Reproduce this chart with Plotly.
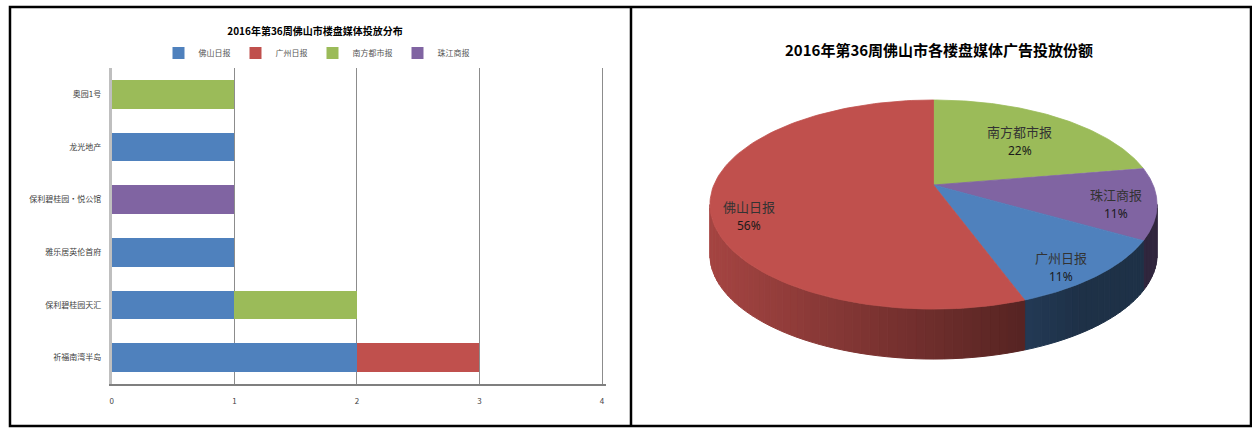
import numpy as np
import plotly.graph_objects as go

W, H = 1252, 428

# ---------------- data ----------------
bar_title = "2016年第36周佛山市楼盘媒体投放分布"
pie_title = "2016年第36周佛山市各楼盘媒体广告投放份额"

categories = ["祈福南湾半岛", "保利碧桂园天汇", "雅乐居英伦首府", "保利碧桂园・悦公馆", "龙光地产", "奥园1号"]
series_names = ["佛山日报", "广州日报", "南方都市报", "珠江商报"]
foshan_ribao = [2, 1, 1, 0, 1, 0]
guangzhou_ribao = [1, 0, 0, 0, 0, 0]
nanfang_dushibao = [0, 1, 0, 0, 0, 1]
zhujiang_shangbao = [0, 0, 0, 1, 0, 0]
x_ticks = [0, 1, 2, 3, 4]

pie_labels = ["南方都市报", "珠江商报", "广州日报", "佛山日报"]
pie_values = [2, 1, 1, 5]

# ---------------- styles ----------------
bar_colors = ["#4F81BD", "#C0504D", "#9BBB59", "#8064A2"]
pie_colors = ["#9BBB59", "#8064A2", "#4F81BD", "#C0504D"]
label_r = [0.67, 0.82, 0.80, 0.83]
label_dy = [3.0, 4.0, 12.0, 16.5]
CJK = "Noto Sans CJK SC"

# 3-D pie geometry (pixel space of the right panel) with mild perspective
cx, cy, R, B, k, depth = 933.0, 185.0, 220.0, 100.9, 0.1866, 50.0

# bar-axis pixel layout
X_LEFT_PX, UNIT_PX, X_MAX = 110.0, 122.75, 4.03

fig = go.Figure()

series = [foshan_ribao, guangzhou_ribao, nanfang_dushibao, zhujiang_shangbao]
for name, vals, col in zip(series_names, series, bar_colors):
    fig.add_trace(go.Bar(
        y=categories, x=vals, orientation="h", name=name,
        marker=dict(color=col, line=dict(width=0)),
        xaxis="x", yaxis="y", hoverinfo="x+y+name",
    ))


def pt(theta_deg, dy=0.0, scale=1.0):
    t = np.radians(theta_deg)
    u = scale * np.sin(t)
    v = -scale * np.cos(t)
    den = 1.0 - k * v
    return cx + R * u / den, cy + B * v / den + dy


def hex_to_rgb(h):
    h = h.lstrip("#")
    return tuple(int(h[i:i + 2], 16) for i in (0, 2, 4))


total = float(sum(pie_values))
bounds = [0.0]
for v in pie_values:
    bounds.append(bounds[-1] + v / total * 360.0)

# silhouette angles (widest points of the projected rim)
phi_r = np.degrees(np.arccos(-k))
phi_l = 360.0 - phi_r
x_left, _ = pt(phi_l)
x_right, _ = pt(phi_r)

# side walls (visible front part only)
for i, col in enumerate(pie_colors):
    a0, a1 = max(bounds[i], phi_r), min(bounds[i + 1], phi_l)
    if a1 <= a0:
        continue
    n = max(1, int(np.ceil((a1 - a0) / 2.0)))
    edges = np.linspace(a0, a1, n + 1)
    r, g, b = hex_to_rgb(col)
    for s0, s1 in zip(edges[:-1], edges[1:]):
        ts = np.linspace(s0, s1, 4)
        xt, yt = pt(ts)
        xb, yb = pt(ts[::-1], dy=depth)
        xs = np.concatenate([xt, xb, xt[:1]])
        ys = np.concatenate([yt, yb, yt[:1]])
        xm, _ = pt((s0 + s1) / 2)
        tpos = (xm - x_left) / (x_right - x_left)
        m = max(0.38, 0.86 - 0.58 * tpos)
        c = f"rgb({int(r * m)},{int(g * m)},{int(b * m)})"
        fig.add_trace(go.Scatter(
            x=xs, y=ys, mode="lines", fill="toself", fillcolor=c,
            line=dict(color=c, width=1), hoverinfo="skip", showlegend=False,
            xaxis="x2", yaxis="y2",
        ))

# top faces
for i, (lab, v, col) in enumerate(zip(pie_labels, pie_values, pie_colors)):
    ts = np.linspace(bounds[i], bounds[i + 1], 120)
    xa, ya = pt(ts)
    xs = np.concatenate([[cx], xa, [cx]])
    ys = np.concatenate([[cy], ya, [cy]])
    fig.add_trace(go.Scatter(
        x=xs, y=ys, mode="lines", fill="toself", fillcolor=col,
        line=dict(color=col, width=0.8), hoverinfo="text",
        text=f"{lab}: {v}", showlegend=False, xaxis="x2", yaxis="y2",
    ))

annotations = []
for i, (lab, v) in enumerate(zip(pie_labels, pie_values)):
    mid = (bounds[i] + bounds[i + 1]) / 2
    lx, ly = pt(mid, dy=label_dy[i], scale=label_r[i])
    annotations.append(dict(
        x=lx, y=ly, xref="x2", yref="y2", text=lab, showarrow=False,
        yshift=9.5, font=dict(family=CJK, size=13, color="#333333"),
    ))
    annotations.append(dict(
        x=lx, y=ly, xref="x2", yref="y2", text=f"{round(v / total * 100)}%",
        showarrow=False, yshift=-9.5,
        font=dict(family="Noto Sans", size=12, color="#1a1a1a"),
    ))

annotations.append(dict(
    x=938, y=49, xref="x2", yref="y2", text=f"<b>{pie_title}</b>",
    showarrow=False, font=dict(family=CJK, size=15, color="black"),
))

shapes = [
    dict(type="rect", xref="paper", yref="paper",
         x0=8 / W, x1=1251 / W, y0=1 - 426 / H, y1=1 - 7 / H,
         line=dict(color="black", width=2.5), fillcolor="rgba(0,0,0,0)", layer="above"),
    dict(type="line", xref="paper", yref="paper",
         x0=630 / W, x1=630 / W, y0=1 - 426 / H, y1=1 - 7 / H,
         line=dict(color="black", width=2.5), layer="above"),
]

fig.update_layout(
    width=W, height=H,
    margin=dict(l=0, r=0, t=0, b=0),
    paper_bgcolor="white", plot_bgcolor="white",
    barmode="stack", bargap=0.45,
    font=dict(family=CJK, color="#404040"),
    title=dict(text=f"<b>{bar_title}</b>", x=315 / W, xanchor="center",
               y=1 - 31 / H, yanchor="middle",
               font=dict(family=CJK, size=10, color="black")),
    legend=dict(orientation="h", x=315 / W, xanchor="center",
                y=1 - 53 / H, yanchor="middle",
                font=dict(family=CJK, size=8, color="#555555"),
                bgcolor="rgba(0,0,0,0)", itemwidth=30, traceorder="normal"),
    xaxis=dict(domain=[X_LEFT_PX / W, (X_LEFT_PX + X_MAX * UNIT_PX) / W],
               range=[0, X_MAX], tickvals=x_ticks,
               showgrid=True, gridcolor="#8c8c8c", gridwidth=1, zeroline=False,
               showline=True, linecolor="#7f7f7f", linewidth=2,
               tickfont=dict(family=CJK, size=8, color="#444444"),
               ticklabelstandoff=8, fixedrange=True, anchor="y"),
    yaxis=dict(domain=[1 - 384 / H, 1 - 68 / H], type="category",
               categoryorder="array", categoryarray=categories,
               showgrid=False, zeroline=False, showline=True,
               linecolor="#bfbfbf", linewidth=3,
               tickfont=dict(family=CJK, size=8, color="#404040"),
               ticklabelstandoff=6, fixedrange=True, anchor="x"),
    xaxis2=dict(domain=[632 / W, 1249 / W], range=[632, 1249], visible=False,
                fixedrange=True, anchor="y2"),
    yaxis2=dict(domain=[0, 1], range=[H, 0], visible=False,
                fixedrange=True, anchor="x2"),
    annotations=annotations,
    shapes=shapes,
)

fig.write_html(
    "out.html",
    config={"displayModeBar": False},
    post_script="document.body.style.margin='0px';document.body.style.overflow='hidden';",
)
